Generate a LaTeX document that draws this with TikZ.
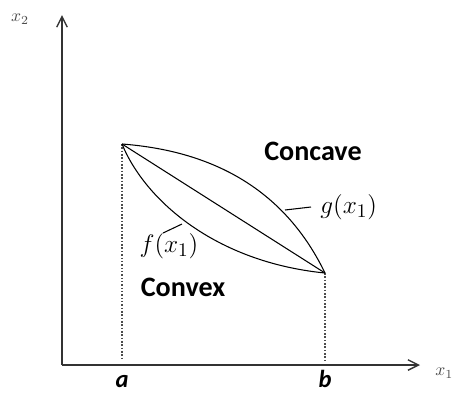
\documentclass[tikz,border=0pt]{standalone}
\usepackage{fontspec}
\setsansfont{Carlito}
\usepackage{tikz}
\usetikzlibrary{arrows.meta, positioning, calc}
\definecolor{AxisGray}{HTML}{333333}
\tikzset{
    % axes and curves
    axis style/.style={
        -{Straight Barb[length=6pt,width=6pt]},
        thick,
        AxisGray
    },
    curve style/.style={
        black,
        line width=0.6pt
    },
    foot style/.style={
        densely dotted,
        line width=0.9pt,
        black!70
    },
    % text styles
    region label/.style={
        font=\sffamily\bfseries\fontsize{16}{18}\selectfont,
        inner sep=0pt
    },
    tick label/.style={
        font=\sffamily\bfseries\itshape\fontsize{14}{16}\selectfont,
        inner sep=0pt
    },
    func label/.style={
        font=\fontsize{15.5}{18}\selectfont,
        inner sep=0pt
    },
    axis label/.style={
        font=\fontsize{10}{12}\selectfont,
        text=black!70,
        inner sep=0pt
    }
}
\begin{document}
\begin{tikzpicture}[x=0.02cm, y=-0.02cm]
        \useasboundingbox (0,0) rectangle (452,393);

        % axes
        \coordinate (origin) at (62,365);
        \coordinate (yend) at (62,15);
        \coordinate (xend) at (420,365);
        \draw[axis style] (origin) -- (yend);
        \draw[axis style] (origin) -- (xend);
        \node[axis label] (xtwo) at (20,19) {$x_2$};
        \node[axis label, anchor=west] (xone) at (435,373) {$x_1$};

        % end points of the interval
        \coordinate (ptA) at (122,144);
        \coordinate (ptB) at (325,273);
        \coordinate (footA) at (122,360);
        \coordinate (footB) at (325,360);
        \draw[foot style] (ptA) -- (footA);
        \draw[foot style] (ptB) -- (footB);
        \node[tick label, anchor=base] (la) at (122,387) {a};
        \node[tick label, anchor=base] (lb) at (325,387) {b};

        % concave, chord and convex
        \draw[curve style] (ptA) .. controls (200,150) and (280,180) .. (ptB);
        \draw[curve style] (ptA) -- (ptB);
        \draw[curve style] (ptA) .. controls (145,200) and (215,262) .. (ptB);

        % labels
        \node[region label] (concave) at (313,151) {Concave};
        \node[region label] (convex) at (183,287) {Convex};
        \node[func label, anchor=west] (glabel) at (320,207) {$g(x_1)$};
        \node[func label] (flabel) at (169,246) {$f(x_1)$};
        \coordinate (gtick) at (285,210);
        \coordinate (ftick) at (182,224);
        \draw[curve style] (gtick) -- ($(glabel.west)+(-9,0)$);
        \draw[curve style] (ftick) -- ($(flabel.north west)!0.4!(flabel.north east)$);
    \end{tikzpicture}
\end{document}
